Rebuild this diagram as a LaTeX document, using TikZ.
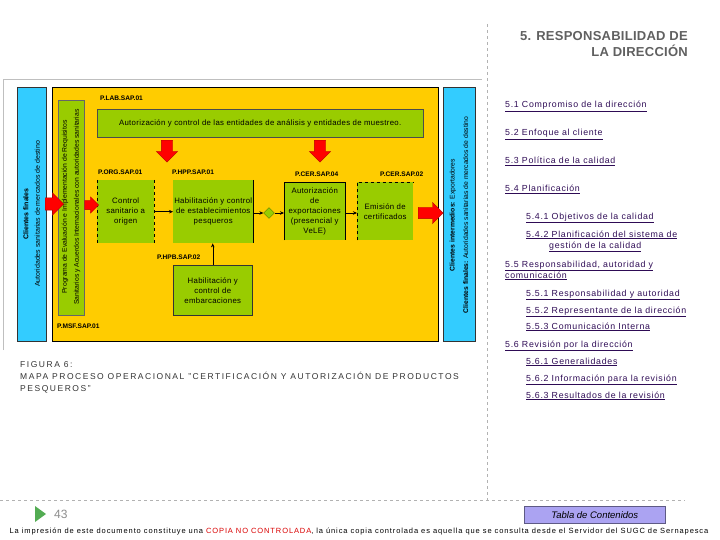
\documentclass[tikz,border=0pt]{standalone}
\usepackage{fontspec}
\setmainfont{Liberation Sans}
\usetikzlibrary{positioning,shapes.arrows,shapes.geometric,arrows.meta}
\definecolor{amarillo}{HTML}{FFCC00}
\definecolor{verde}{HTML}{99CC00}
\definecolor{celeste}{HTML}{33CCFF}
\definecolor{morado}{HTML}{2E0B55}
\definecolor{gristit}{HTML}{606060}
\definecolor{lila}{HTML}{ABA3F2}
\newcommand{\toc}[1]{\underline{#1}}
\begin{document}
\begin{tikzpicture}[x=1pt, y=-1pt, >={Stealth[length=4pt,width=3.5pt]},
	caja/.style={fill=verde, inner sep=1pt, align=center, font=\fontsize{7.8}{10}\selectfont\addfontfeature{LetterSpace=4}, anchor=north west},
	codigo/.style={font=\fontsize{6.6}{7}\selectfont\bfseries, anchor=west, inner sep=0},
	flecharoja/.style={single arrow, fill=red, draw=red!70!black, line width=.3pt, inner sep=5.5pt, single arrow head extend=5pt, minimum height=#1},
	indice/.style={text=morado, font=\fontsize{8.8}{10}\selectfont\addfontfeature{LetterSpace=8}, anchor=base west, inner sep=0, align=left},
	barra/.style={draw=black!80, line width=.5pt}]
	\useasboundingbox (0,0) rectangle (720,540);

	% frame of the figure and page guides
	\draw[black!25] (3,350) -- (3,79) -- (482,79);
	\draw[dashed, black!30] (487,24) -- (487,500);
	\draw[dashed, black!30] (0,500) -- (685,500);

	% outer blocks
	\fill[celeste] (17,87) rectangle (46,341);
	\draw[barra] (17,87) rectangle (46,341);
	\fill[amarillo] (52,87) rectangle (438,341);
	\draw[black, line width=.7pt] (52,87) rectangle (438,341);
	\fill[celeste] (443,87) rectangle (475,341);
	\draw[barra] (443,87) rectangle (475,341);
	\fill[verde] (58,100) rectangle (84,315);
	\draw[black!60, line width=.3pt] (58,100) rectangle (84,315);

	\node[rotate=90, align=center, font=\fontsize{7}{11.5}\selectfont] (clientesizq) at (31.5,214)
		{\textbf{Clientes finales}\\Autoridades sanitarias de mercados de destino};
	\node[rotate=90, align=center, font=\fontsize{6.8}{12}\selectfont] (programa) at (71,207)
		{Programa de Evaluación e Implementación de Requisitos\\Sanitarios y Acuerdos Internacionales con autoridades sanitarias};
	\node[rotate=90, align=center, font=\fontsize{6.8}{13.5}\selectfont] (clientesder) at (459,215)
		{\textbf{Clientes intermedios:} Exportadores\\\textbf{Clientes finales:} Autoridades sanitarias de mercados de destino};

	% process boxes
	\node[caja, draw=black!70, line width=.4pt, minimum width=326pt, minimum height=28pt] (entidades) at (97,109)
		{Autorización y control de las entidades de análisis y entidades de muestreo.};
	\node[caja, minimum width=57pt, minimum height=63pt] (control) at (97,180) {Control\\sanitario a\\origen};
	\node[caja, minimum width=80pt, minimum height=63pt] (habil) at (173,180) {Habilitación y control\\de establecimientos\\pesqueros};
	\node[caja, minimum width=61pt, minimum height=58pt] (autor) at (284,182) {Autorización\\de\\exportaciones\\(presencial y\\VeLE)};
	\node[caja, minimum width=56pt, minimum height=58pt] (emision) at (357,182) {Emisión de\\certificados};
	\node[caja, draw=black!80, line width=.5pt, minimum width=79pt, minimum height=50pt] (embarc) at (173,265) {Habilitación y\\control de\\embarcaciones};
	\node[diamond, fill=verde, draw=verde!60!black, line width=.3pt, minimum size=11pt, inner sep=0] (rombo) at (269,213) {};

	% partial borders
	\draw[dashed, line width=.4pt] (control.north west) -- (control.south west);
	\draw[dashed, line width=.4pt] (control.north east) -- (control.south east);
	\draw[line width=.5pt] (habil.north east) -- (habil.south east);
	\draw[line width=.5pt] (autor.south west) -- (autor.north west) -- (autor.north east) -- (autor.south east);
	\draw[dashed, line width=.4pt] (emision.south west) -- (emision.north west) -- (emision.north east);

	% codes
	\node[codigo] (lab) at (100,98) {P.LAB.SAP.01};
	\node[codigo] (org) at (98,172) {P.ORG.SAP.01};
	\node[codigo] (hpp) at (172,172) {P.HPP.SAP.01};
	\node[codigo] (cer4) at (295,174) {P.CER.SAP.04};
	\node[codigo] (cer2) at (380,174) {P.CER.SAP.02};
	\node[codigo] (hpb) at (157,257) {P.HPB.SAP.02};
	\node[codigo] (msf) at (57,326) {P.MSF.SAP.01};

	% connectors
	\draw[->, line width=.5pt] (control.east |- habil) -- (habil);
	\draw[->, line width=.5pt] (habil.east |- rombo) -- (rombo);
	\draw[->, line width=.5pt] (rombo) -- (autor.west |- rombo);
	\draw[->, line width=.5pt] (autor.east |- rombo) -- (emision.west |- rombo);
	\draw[->, line width=.5pt] (embarc.north) -- (embarc.north |- habil.south);

	% red block arrows
	\node[flecharoja=14pt, anchor=west, inner sep=6pt] (rojaizq) at (45,204) {};
	\node[flecharoja=13pt, anchor=west, inner sep=4.5pt, single arrow head extend=3.5pt] (rojaprog) at (84.5,205) {};
	\node[flecharoja=22pt, shape border rotate=270, anchor=north] (rojabaja1) at (167,140) {};
	\node[flecharoja=22pt, shape border rotate=270, anchor=north] (rojabaja2) at (320,140) {};
	\node[flecharoja=25pt, anchor=west] (rojader) at (418,213) {};

	% caption
	\node[anchor=north west, inner sep=0, text=black!80, align=left, font=\fontsize{8.5}{12}\selectfont\addfontfeature{LetterSpace=18}] (figura) at (20,361)
		{FIGURA 6:\\MAPA PROCESO OPERACIONAL "CERTIFICACIÓN Y AUTORIZACIÓN DE PRODUCTOS\\PESQUEROS"};

	% title and index
	\node[anchor=north east, inner sep=0, align=right, text=gristit, font=\fontsize{13}{16}\selectfont\bfseries\addfontfeature{LetterSpace=2}] (titulo) at (688,31)
		{5. RESPONSABILIDAD DE\\LA DIRECCIÓN};
	\node[indice] (i51) at (505,108) {\toc{5.1 Compromiso de la dirección}};
	\node[indice] (i52) at (505,136) {\toc{5.2 Enfoque al cliente}};
	\node[indice] (i53) at (505,164) {\toc{5.3 Política de la calidad}};
	\node[indice] (i54) at (505,192) {\toc{5.4 Planificación}};
	\node[indice] (i541) at (526,219) {\toc{5.4.1 Objetivos de la calidad}};
	\node[indice] (i542) at (526,237) {\toc{5.4.2 Planificación del sistema de}};
	\node[indice] (i542b) at (549,248) {\toc{gestión de la calidad}};
	\node[indice] (i55) at (505,267) {\toc{5.5 Responsabilidad, autoridad y}};
	\node[indice] (i55b) at (505,278) {\toc{comunicación}};
	\node[indice] (i551) at (526,296) {\toc{5.5.1 Responsabilidad y autoridad}};
	\node[indice] (i552) at (526,313) {\toc{5.5.2 Representante de la dirección}};
	\node[indice] (i553) at (526,329) {\toc{5.5.3 Comunicación Interna}};
	\node[indice] (i56) at (505,347) {\toc{5.6 Revisión por la dirección}};
	\node[indice] (i561) at (526,364) {\toc{5.6.1 Generalidades}};
	\node[indice] (i562) at (526,381) {\toc{5.6.2 Información para la revisión}};
	\node[indice] (i563) at (526,398) {\toc{5.6.3 Resultados de la revisión}};

	% footer
	\fill[green!35!gray] (35,506) -- (46,514) -- (35,522) -- cycle;
	\node[anchor=west, inner sep=0, text=black!45, font=\fontsize{12}{14}\selectfont] (pagina) at (54,514) {43};
	\node[draw=lila!55!black, line width=.6pt, fill=lila, minimum width=141pt, minimum height=17pt, inner sep=0,
		font=\fontsize{9.5}{11}\selectfont\itshape, anchor=north west] (botontabla) at (524,506) {Tabla de Contenidos};
	\node[inner sep=0, font=\fontsize{7.5}{8}\selectfont\addfontfeature{LetterSpace=12}] (aviso) at (359,532)
		{La impresión de este documento constituye una \textcolor{red!85!black}{COPIA NO CONTROLADA}, la única copia controlada es aquella que se consulta desde el Servidor del SUGC de Sernapesca};
\end{tikzpicture}
\end{document}
